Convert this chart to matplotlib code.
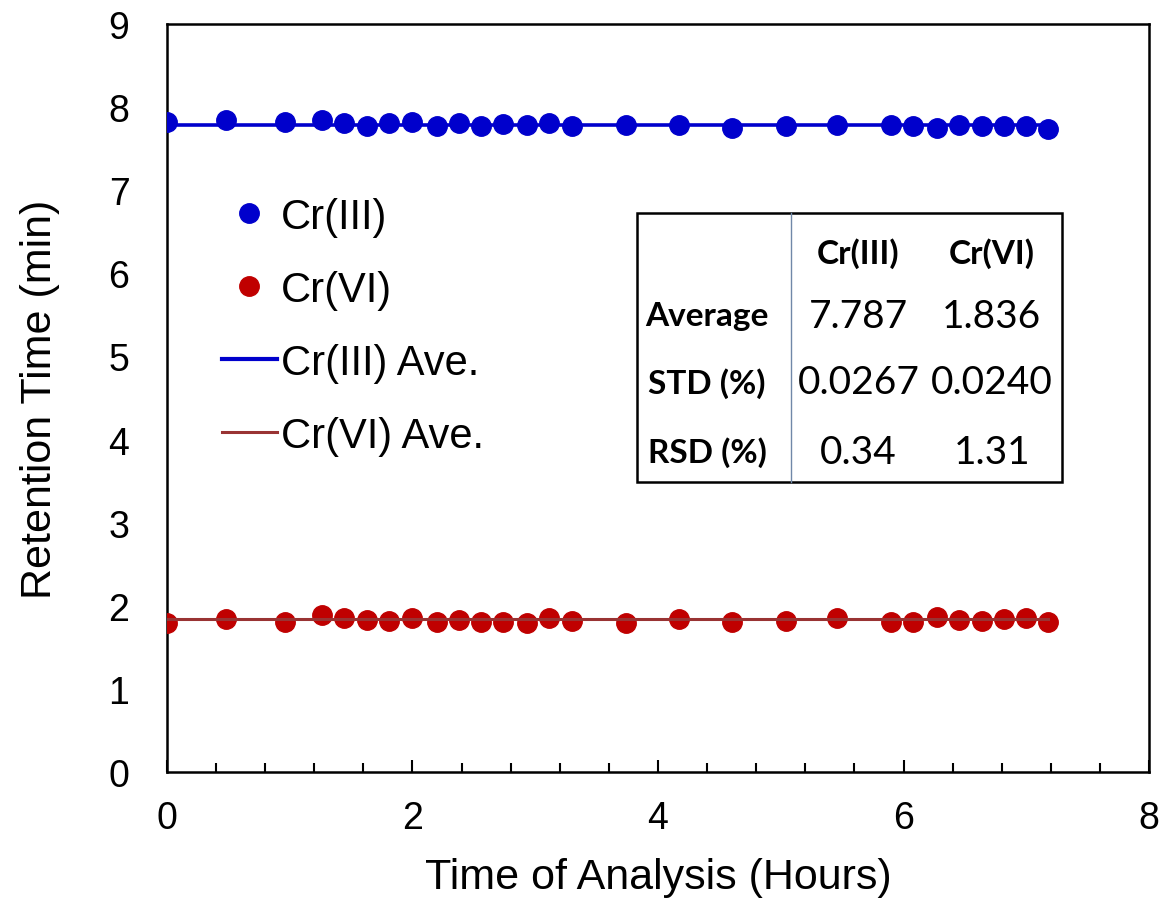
import matplotlib
matplotlib.use('Agg')

import matplotlib.pyplot as plt
from matplotlib.lines import Line2D
from matplotlib.patches import Rectangle
from matplotlib.ticker import MultipleLocator

plt.rcParams['font.family'] = ['Liberation Sans', 'DejaVu Sans']

# hours of analysis for each injection
hours = [0.00, 0.48, 0.96, 1.26, 1.44, 1.63, 1.81, 2.00, 2.20, 2.38, 2.56, 2.74,
         2.93, 3.11, 3.30, 3.74, 4.17, 4.60, 5.04, 5.46, 5.90, 6.08, 6.27, 6.45,
         6.64, 6.82, 7.00, 7.18]
cr3_rt = [7.82, 7.85, 7.82, 7.85, 7.81, 7.77, 7.81, 7.82, 7.77, 7.81, 7.77, 7.80,
          7.78, 7.81, 7.77, 7.79, 7.78, 7.75, 7.77, 7.79, 7.79, 7.77, 7.75, 7.79,
          7.77, 7.77, 7.77, 7.74]
cr6_rt = [1.79, 1.84, 1.81, 1.89, 1.85, 1.83, 1.82, 1.85, 1.81, 1.83, 1.81, 1.80,
          1.79, 1.85, 1.82, 1.79, 1.84, 1.80, 1.82, 1.85, 1.80, 1.81, 1.87, 1.83,
          1.82, 1.84, 1.85, 1.81]
cr3_ave = 7.787
cr6_ave = 1.836

table_cols = ['Cr(III)', 'Cr(VI)']
table_rows = ['Average', 'STD (%)', 'RSD (%)']
table_vals = [['7.787', '1.836'], ['0.0267', '0.0240'], ['0.34', '1.31']]

blue = '#0000CC'
red = '#C00000'
brown = '#993333'

fig = plt.figure(figsize=(11.65, 9.04), dpi=100)
ax = fig.add_axes([0.1433, 0.1449, 0.8430, 0.8274])

ax.plot(hours, cr3_rt, 'o', color=blue, markersize=14, zorder=3)
ax.plot(hours, cr6_rt, 'o', color=red, markersize=14, zorder=3)
ax.plot([hours[0], hours[-1]], [cr3_ave, cr3_ave], color=blue, lw=2.6, zorder=4)
ax.plot([hours[0], hours[-1]], [cr6_ave, cr6_ave], color=brown, lw=2.2, zorder=4)

ax.set_xlim(0, 8)
ax.set_ylim(0, 9)
ax.xaxis.set_major_locator(MultipleLocator(2))
ax.xaxis.set_minor_locator(MultipleLocator(0.4))
ax.tick_params(axis='x', which='major', direction='in', length=9, width=1.5,
               labelsize=27, pad=20)
ax.tick_params(axis='x', which='minor', direction='in', length=6.5, width=1.5)
ax.tick_params(axis='y', length=0, labelsize=27, pad=27)
for s in ax.spines.values():
    s.set_linewidth(1.8)

ax.set_xlabel('Time of Analysis (Hours)', fontsize=31, labelpad=15)
ax.set_ylabel('Retention Time (min)', fontsize=31, labelpad=35)

handles = [
    Line2D([], [], ls='none', marker='o', color=blue, markersize=14),
    Line2D([], [], ls='none', marker='o', color=red, markersize=14),
    Line2D([], [], color=blue, lw=3),
    Line2D([], [], color=brown, lw=2.2),
]
labels = ['Cr(III)', 'Cr(VI)', 'Cr(III) Ave.', 'Cr(VI) Ave.']
ax.legend(handles, labels, loc='upper left', bbox_to_anchor=(0.056, 0.769),
          frameon=False, fontsize=30, handlelength=1.32, handletextpad=0.1,
          labelspacing=0.79, borderpad=0, borderaxespad=0)

# statistics box
x0, x1, y0, y1 = 0.479, 0.911, 0.388, 0.747
ax.add_patch(Rectangle((x0, y0), x1 - x0, y1 - y0, transform=ax.transAxes,
                       fill=False, ec='black', lw=1.8, zorder=5))
ax.plot([0.635, 0.635], [y0, y1], transform=ax.transAxes, color='#7088a8',
        lw=1.0, zorder=5)
tfont = ['Lato', 'DejaVu Sans']
col_x = [0.704, 0.840]
row_y = [0.610, 0.521, 0.428]
for cx, name in zip(col_x, table_cols):
    ax.text(cx, 0.695, name, transform=ax.transAxes, ha='center', va='center',
            fontsize=24, fontweight='bold', family=tfont)
for ry, name, vals in zip(row_y, table_rows, table_vals):
    ax.text(0.550, ry, name, transform=ax.transAxes, ha='center', va='center',
            fontsize=24, fontweight='bold', family=tfont)
    for cx, v in zip(col_x, vals):
        ax.text(cx, ry, v, transform=ax.transAxes, ha='center', va='center',
                fontsize=28, family=tfont)

fig.savefig('out.png', dpi=100)
